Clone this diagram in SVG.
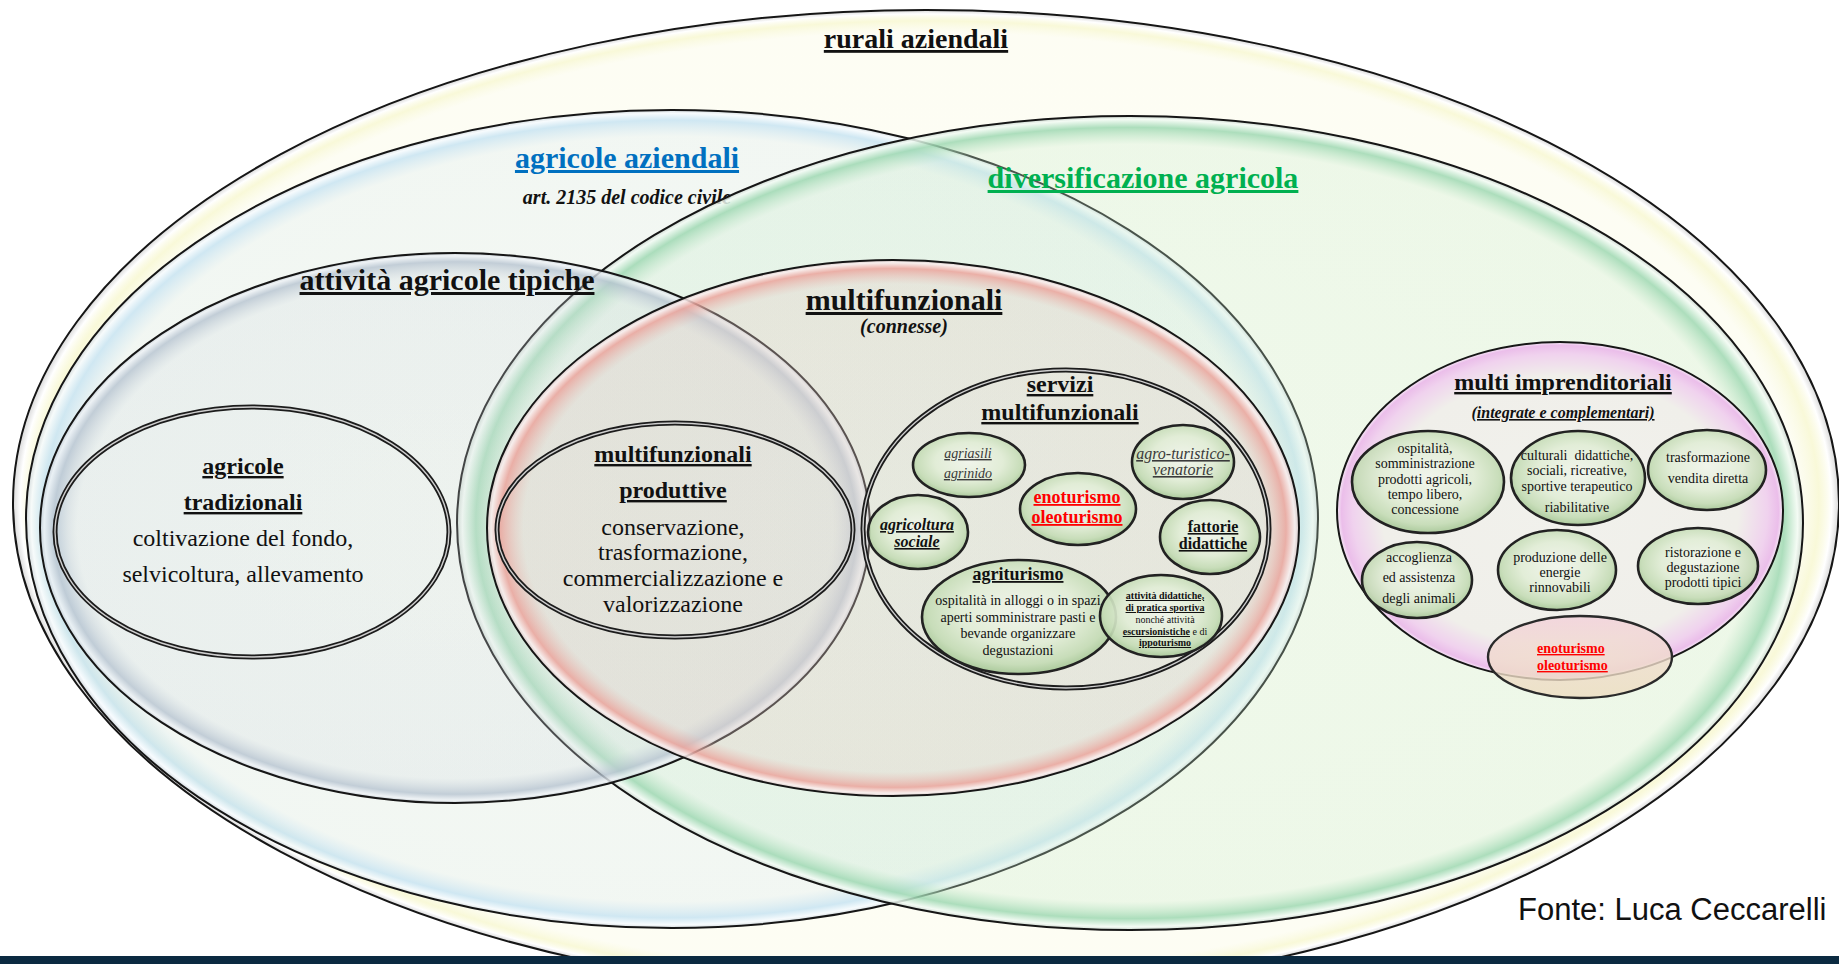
<svg xmlns="http://www.w3.org/2000/svg" width="1839" height="964" viewBox="0 0 1839 964">
<style>
.t{font-family:"Liberation Serif","Times New Roman",serif;text-anchor:middle;fill:#111}
.b{font-weight:bold}
.i{font-style:italic}
.u{text-decoration:underline}
.s30{font-size:30px}.s28{font-size:28px}.s24{font-size:24px}.s20{font-size:20px}.s18{font-size:18px}.s16{font-size:16px}.s15{font-size:15px}.s14{font-size:14px}.s10{font-size:10px}
.red{fill:#ff0000}
.grey{fill:#3a3a3a}
.big{stroke:#161616;stroke-width:2}
.dbl1{fill:none;stroke:#1c1c1c;stroke-width:5}
.dbl2{fill:none;stroke:#cfcfcf;stroke-width:1.4}
.bub{fill:url(#gBub);stroke:#222;stroke-width:2.6}
.conn{fill:none}
</style>
<defs>
<radialGradient id="gRur" cx="50%" cy="50%" r="50%">
<stop offset="0" stop-color="#fafae2" stop-opacity="0.35"/>
<stop offset="0.955" stop-color="#fafae2" stop-opacity="0.4"/>
<stop offset="0.978" stop-color="#f6f6c8" stop-opacity="0.7"/>
<stop offset="0.992" stop-color="#ffffff" stop-opacity="0.95"/>
<stop offset="1" stop-color="#d8d8d8" stop-opacity="0.95"/>
</radialGradient>
<radialGradient id="gBlue" cx="50%" cy="50%" r="50%">
<stop offset="0" stop-color="#d9e8ee" stop-opacity="0.22"/>
<stop offset="0.935" stop-color="#d7e8f0" stop-opacity="0.3"/>
<stop offset="0.975" stop-color="#c4e2f2" stop-opacity="0.8"/>
<stop offset="0.992" stop-color="#f6fbff" stop-opacity="0.85"/>
<stop offset="1" stop-color="#d0d8dd" stop-opacity="0.85"/>
</radialGradient>
<radialGradient id="gGreen" cx="50%" cy="50%" r="50%">
<stop offset="0" stop-color="#c8ebcd" stop-opacity="0.25"/>
<stop offset="0.93" stop-color="#c8ebcd" stop-opacity="0.3"/>
<stop offset="0.972" stop-color="#9ed8b2" stop-opacity="0.85"/>
<stop offset="0.992" stop-color="#f2fbf4" stop-opacity="0.85"/>
<stop offset="1" stop-color="#c8d4cc" stop-opacity="0.85"/>
</radialGradient>
<radialGradient id="gAtt" cx="50%" cy="50%" r="50%">
<stop offset="0" stop-color="#d6dedf" stop-opacity="0.22"/>
<stop offset="0.91" stop-color="#d4dce2" stop-opacity="0.28"/>
<stop offset="0.968" stop-color="#b6c3d0" stop-opacity="0.8"/>
<stop offset="0.99" stop-color="#eef2f6" stop-opacity="0.8"/>
<stop offset="1" stop-color="#c4ccd4" stop-opacity="0.8"/>
</radialGradient>
<radialGradient id="gRed" cx="50%" cy="50%" r="50%">
<stop offset="0" stop-color="#e2cfc8" stop-opacity="0.32"/>
<stop offset="0.91" stop-color="#e4ccc5" stop-opacity="0.34"/>
<stop offset="0.968" stop-color="#eba39b" stop-opacity="0.85"/>
<stop offset="0.99" stop-color="#fbeeee" stop-opacity="0.85"/>
<stop offset="1" stop-color="#d8c4c4" stop-opacity="0.85"/>
</radialGradient>
<radialGradient id="gMulti" cx="50%" cy="50%" r="50%">
<stop offset="0" stop-color="#f1f1ec"/>
<stop offset="0.8" stop-color="#f0efea"/>
<stop offset="0.93" stop-color="#f0d2ee"/>
<stop offset="0.98" stop-color="#ebbeea"/>
<stop offset="1" stop-color="#f6eaf6"/>
</radialGradient>
<radialGradient id="gBub" cx="50%" cy="45%" r="55%">
<stop offset="0" stop-color="#f1f5ec" stop-opacity="0.92"/>
<stop offset="0.55" stop-color="#e1edd6" stop-opacity="0.92"/>
<stop offset="0.85" stop-color="#c5dcb6" stop-opacity="0.92"/>
<stop offset="1" stop-color="#a6c796" stop-opacity="0.92"/>
</radialGradient>
<linearGradient id="gPeach" x1="0" y1="0" x2="0" y2="1">
<stop offset="0" stop-color="#f3d0da" stop-opacity="0.8"/>
<stop offset="0.5" stop-color="#f0dccd" stop-opacity="0.8"/>
<stop offset="1" stop-color="#ecdcbf" stop-opacity="0.8"/>
</linearGradient>
</defs>

<rect width="1839" height="964" fill="#ffffff"/>

<g id="rurali-aziendali">
<ellipse cx="926" cy="503" rx="913" ry="493" fill="url(#gRur)" class="big"/>
<text class="t b u s28" x="916" y="48">rurali aziendali</text>
</g>

<g id="agricole-aziendali">
<ellipse cx="672" cy="519" rx="646" ry="409" fill="url(#gBlue)" class="big"/>
<text class="t b u s30" x="627" y="168" style="fill:#0070c0">agricole aziendali</text>
<text class="t b i s20" x="627" y="204">art. 2135 del codice civile</text>
</g>

<g id="diversificazione-agricola">
<ellipse cx="1130" cy="523" rx="673" ry="407" fill="url(#gGreen)" class="big"/>
<text class="t b u s30" x="1143" y="188" style="fill:#00b050">diversificazione agricola</text>
</g>

<g id="attivita-agricole-tipiche">
<ellipse cx="455" cy="528" rx="415" ry="275" fill="url(#gAtt)" class="big"/>
<text class="t b u s30" x="447" y="290">attività agricole tipiche</text>
</g>

<g id="multifunzionali">
<ellipse cx="893" cy="528" rx="406" ry="268" fill="url(#gRed)" class="big"/>
<text class="t b u s30" x="904" y="310">multifunzionali</text>
<text class="t b i s20" x="904" y="333">(connesse)</text>
</g>

<g id="agricole-tradizionali">
<ellipse cx="252" cy="532" rx="197" ry="125" class="dbl1"/>
<ellipse cx="252" cy="532" rx="197" ry="125" class="dbl2"/>
<text class="t b u s24" x="243" y="474">agricole</text>
<text class="t b u s24" x="243" y="510">tradizionali</text>
<text class="t s24" x="243" y="546">coltivazione del fondo,</text>
<text class="t s24" x="243" y="582">selvicoltura, allevamento</text>
</g>

<g id="multifunzionali-produttive">
<ellipse cx="675" cy="530" rx="178" ry="107" class="dbl1"/>
<ellipse cx="675" cy="530" rx="178" ry="107" class="dbl2"/>
<text class="t b u s24" x="673" y="462">multifunzionali</text>
<text class="t b u s24" x="673" y="498">produttive</text>
<text class="t s24" x="673" y="535">conservazione,</text>
<text class="t s24" x="673" y="560">trasformazione,</text>
<text class="t s24" x="673" y="586">commercializzazione e</text>
<text class="t s24" x="673" y="612">valorizzazione</text>
</g>

<g id="servizi-multifunzionali">
<ellipse cx="1066" cy="529" rx="203" ry="159" class="dbl1"/>
<ellipse cx="1066" cy="529" rx="203" ry="159" class="dbl2"/>
<text class="t b u s24" x="1060" y="392">servizi</text>
<text class="t b u s24" x="1060" y="420">multifunzionali</text>
</g>

<g id="agriasili">
<ellipse cx="969" cy="465" rx="56" ry="32" class="bub"/>
<text class="t i u s14 grey" x="968" y="458">agriasili</text>
<text class="t i u s14 grey" x="968" y="478">agrinido</text>
</g>
<g id="agricoltura-sociale">
<ellipse cx="918" cy="532" rx="50" ry="37" class="bub"/>
<text class="t b i u s16" x="917" y="530">agricoltura</text>
<text class="t b i u s16" x="917" y="547">sociale</text>
</g>
<g id="enoturismo-servizi">
<ellipse cx="1078" cy="509" rx="58" ry="36" class="bub"/>
<text class="t b u s18 red" x="1077" y="503">enoturismo</text>
<text class="t b u s18 red" x="1077" y="523">oleoturismo</text>
</g>
<g id="agro-turistico-venatorie">
<ellipse cx="1183" cy="462" rx="51" ry="37" class="bub"/>
<text class="t i u s16 grey" x="1183" y="459">agro-turistico-</text>
<text class="t i u s16 grey" x="1183" y="475">venatorie</text>
</g>
<g id="fattorie-didattiche">
<ellipse cx="1210" cy="537" rx="50" ry="37" class="bub"/>
<text class="t b u s16" x="1213" y="532">fattorie</text>
<text class="t b u s16" x="1213" y="549">didattiche</text>
</g>
<g id="agriturismo">
<ellipse cx="1019" cy="617" rx="97" ry="57" class="bub"/>
<text class="t b u s18" x="1018" y="580">agriturismo</text>
<text class="t s14" x="1018" y="605">ospitalità in alloggi o in spazi</text>
<text class="t s14" x="1018" y="622">aperti somministrare pasti e</text>
<text class="t s14" x="1018" y="638">bevande organizzare</text>
<text class="t s14" x="1018" y="655">degustazioni</text>
</g>
<g id="attivita-didattiche">
<ellipse cx="1161" cy="616" rx="61" ry="41" class="bub"/>
<text class="t b u s10" x="1165" y="599">attività didattiche,</text>
<text class="t b u s10" x="1165" y="611">di pratica sportiva</text>
<text class="t s10" x="1165" y="623">nonché attività</text>
<text class="t s10" x="1165" y="635"><tspan class="b u">escursionistiche</tspan> e di</text>
<text class="t b u s10" x="1165" y="646">ippoturismo</text>
</g>

<g id="multi-imprenditoriali">
<ellipse cx="1560" cy="511" rx="223" ry="169" fill="url(#gMulti)" class="big"/>
<text class="t b u s24" x="1563" y="390">multi imprenditoriali</text>
<text class="t b i u s16" x="1563" y="418">(integrate e complementari)</text>
</g>

<g id="ospitalita">
<ellipse cx="1428" cy="482" rx="76" ry="51" class="bub"/>
<text class="t s14" x="1425" y="453">ospitalità,</text>
<text class="t s14" x="1425" y="468">somministrazione</text>
<text class="t s14" x="1425" y="484">prodotti agricoli,</text>
<text class="t s14" x="1425" y="499">tempo libero,</text>
<text class="t s14" x="1425" y="514">concessione</text>
</g>
<g id="culturali">
<ellipse cx="1578" cy="478" rx="67" ry="47" class="bub"/>
<text class="t s14" x="1577" y="460">culturali&#160; didattiche,</text>
<text class="t s14" x="1577" y="475">sociali, ricreative,</text>
<text class="t s14" x="1577" y="491">sportive terapeutico</text>
<text class="t s14" x="1577" y="512">riabilitative</text>
</g>
<g id="trasformazione">
<ellipse cx="1707" cy="470" rx="59" ry="40" class="bub"/>
<text class="t s14" x="1708" y="462">trasformazione</text>
<text class="t s14" x="1708" y="483">vendita diretta</text>
</g>
<g id="accoglienza">
<ellipse cx="1417" cy="580" rx="55" ry="38" class="bub"/>
<text class="t s14" x="1419" y="562">accoglienza</text>
<text class="t s14" x="1419" y="582">ed assistenza</text>
<text class="t s14" x="1419" y="603">degli animali</text>
</g>
<g id="produzione">
<ellipse cx="1557" cy="570" rx="59" ry="40" class="bub"/>
<text class="t s14" x="1560" y="562">produzione delle</text>
<text class="t s14" x="1560" y="577">energie</text>
<text class="t s14" x="1560" y="592">rinnovabili</text>
</g>
<g id="ristorazione">
<ellipse cx="1698" cy="566" rx="60" ry="38" class="bub"/>
<text class="t s14" x="1703" y="557">ristorazione e</text>
<text class="t s14" x="1703" y="572">degustazione</text>
<text class="t s14" x="1703" y="587">prodotti tipici</text>
</g>
<g id="enoturismo-multi">
<ellipse cx="1580" cy="657" rx="92" ry="41" fill="url(#gPeach)" stroke="#2a2a2a" stroke-width="2.4"/>
<text class="t b u s14 red" x="1537" y="653" style="text-anchor:start">enoturismo</text>
<text class="t b u s14 red" x="1537" y="670" style="text-anchor:start">oleoturismo</text>
</g>

<g id="connectors" class="conn"></g>

<g id="fonte">
<text x="1518" y="920" style="font-family:'Liberation Sans',Arial,sans-serif;font-size:31px;fill:#111">Fonte: Luca Ceccarelli</text>
</g>
<rect id="bottom-bar" x="0" y="956" width="1839" height="8" fill="#0b2a41"/>
</svg>
